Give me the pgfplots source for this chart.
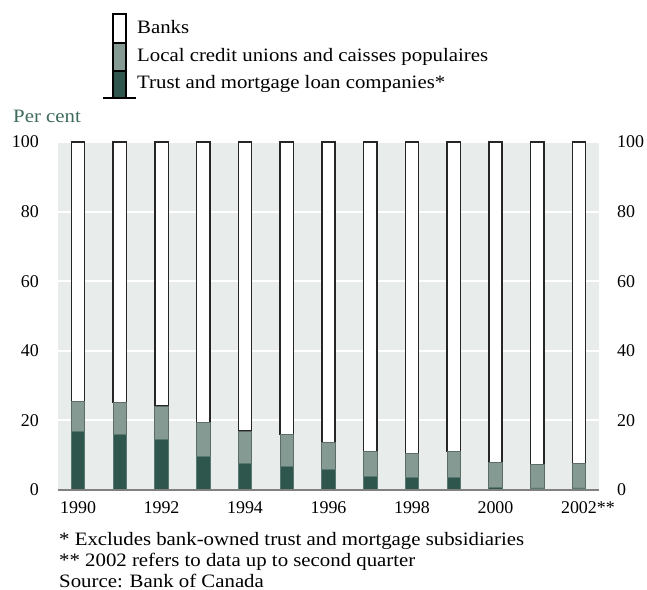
\documentclass[border=0pt]{standalone}
\usepackage{pgfplots}
\pgfplotsset{compat=1.18}
\usepackage{fontspec}
\setmainfont{Liberation Serif}
\newfontfamily\wide{Liberation Serif}[FakeStretch=1.1]
\definecolor{bgc}{HTML}{E8ECEA}
\definecolor{darkc}{HTML}{2E564D}
\definecolor{midc}{HTML}{869A94}
\definecolor{pcc}{HTML}{3F6B5E}
\definecolor{basec}{HTML}{808080}
\pgfplotstableread{
year trust credit banks
1990 16.8 8.7 74.5
1991 16.0 9.2 74.8
1992 14.5 9.6 75.9
1993 9.7 9.6 80.7
1994 7.7 9.2 83.1
1995 6.7 9.2 84.1
1996 5.8 7.9 86.3
1997 3.9 7.1 89.0
1998 3.6 6.8 89.6
1999 3.7 7.3 89.0
2000 0.7 7.2 92.1
2001 0.6 6.8 92.6
2002 0.6 7.1 92.3
}\datatable
\begin{document}
\begin{tikzpicture}[x=1bp,y=1bp]
\useasboundingbox (-58,-100) rectangle (589,490);
\begin{axis}[
  at={(0,0)}, anchor=south west,
  width=541bp, height=348bp, scale only axis,
  xmin=1989.52, xmax=2002.48, ymin=0, ymax=100,
  clip=false,
  ybar stacked, bar width=0.32,
  axis background/.style={fill=bgc},
  axis line style={draw=none},
  ytick={0,20,...,100},
  ymajorgrids, grid style={white, line width=2bp},
  xtick={1990,1992,...,2002},
  xticklabels={1990,1992,1994,1996,1998,2000,2002\rlap{**}},
  major tick length=0pt,
  /pgf/number format/assume math mode=true,
  tick label style={font=\fontsize{18}{20}\selectfont, text=black},
  yticklabel style={anchor=east, inner sep=0pt, xshift=-19bp},
  xticklabel style={anchor=north, inner sep=0pt, yshift=-11bp},
]
\draw[basec, line width=2.5bp] (axis cs:1989.52,0) -- (axis cs:2002.48,0);
\addplot[fill=darkc, draw=darkc!80!white, line width=0.8bp] table[x=year, y=trust] {\datatable};
\addplot[fill=midc, draw=midc!70!black, line width=0.8bp] table[x=year, y=credit] {\datatable};
\addplot[fill=white, draw=black!85, line width=1.4bp] table[x=year, y=banks] {\datatable};
\end{axis}
\begin{axis}[
  at={(0,0)}, anchor=south west,
  width=541bp, height=348bp, scale only axis,
  xmin=1989.52, xmax=2002.48, ymin=0, ymax=100,
  axis line style={draw=none},
  xtick=\empty,
  ytick={0,20,...,100},
  ytick pos=right, yticklabel pos=right,
  major tick length=0pt,
  /pgf/number format/assume math mode=true,
  tick label style={font=\fontsize{18}{20}\selectfont, text=black},
  yticklabel style={anchor=west, inner sep=0pt, xshift=18bp},
]
\end{axis}
% legend
\draw[black, line width=1.3bp, fill=white] (55,447) rectangle (68,476);
\draw[black, line width=1.3bp, fill=midc] (55,419) rectangle (68,447);
\draw[black, line width=1.3bp, fill=darkc] (55,392) rectangle (68,419);
\draw[black, line width=1.5bp] (45,392) -- (78,392);
\node[anchor=base west, inner sep=0pt, font=\wide\fontsize{19}{22}\selectfont] at (79,456) {Banks};
\node[anchor=base west, inner sep=0pt, font=\wide\fontsize{19}{22}\selectfont] at (79,428) {Local credit unions and caisses populaires};
\node[anchor=base west, inner sep=0pt, font=\wide\fontsize{19}{22}\selectfont] at (79,401) {Trust and mortgage loan companies*};
% y label
\node[anchor=base west, inner sep=0pt, text=pcc, font=\wide\fontsize{19}{22}\selectfont] at (-45,367) {Per cent};
% footnotes
\node[anchor=base west, inner sep=0pt, font=\wide\fontsize{19}{22}\selectfont] at (1,-56) {* Excludes bank-owned trust and mortgage subsidiaries};
\node[anchor=base west, inner sep=0pt, font=\wide\fontsize{19}{22}\selectfont] at (1,-77) {** 2002 refers to data up to second quarter};
\node[anchor=base west, inner sep=0pt, font=\wide\fontsize{19}{22}\selectfont] at (1,-97) {Source: Bank of Canada};
\end{tikzpicture}
\end{document}
